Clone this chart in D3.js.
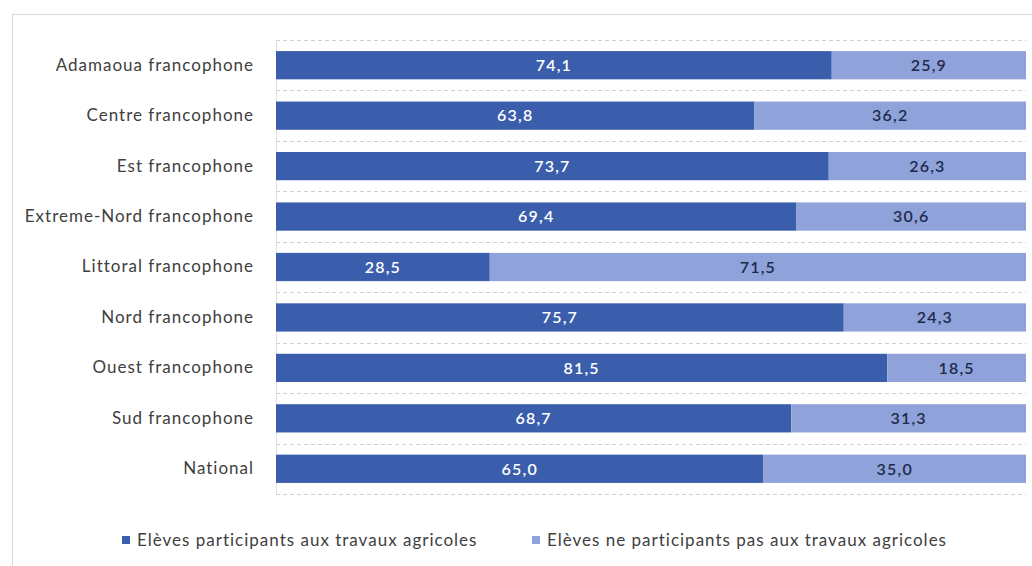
<!DOCTYPE html>
<html><head><meta charset="utf-8">
<script src="https://cdn.jsdelivr.net/npm/d3@7"></script>
<style>body{margin:0;background:#fff;} text{font-family:Lato,"Open Sans",sans-serif;}</style>
</head><body>
<svg id="c" width="1032" height="566"></svg>
<script>
const categories = ["Adamaoua francophone","Centre francophone","Est francophone","Extreme-Nord francophone","Littoral francophone","Nord francophone","Ouest francophone","Sud francophone","National"];
const participants = [74.1,63.8,73.7,69.4,28.5,75.7,81.5,68.7,65.0];
const nonParticipants = [25.9,36.2,26.3,30.6,71.5,24.3,18.5,31.3,35.0];
const seriesNames = ["Elèves participants aux travaux agricoles","Elèves ne participants pas aux travaux agricoles"];
const colors = ["#3a5eac","#8fa2da"];
const labelColors = ["#ffffff","#1e2a4a"];

const svg = d3.select("#c");
// outer frame
svg.append("rect").attr("x",12.5).attr("y",14.5).attr("width",1040).attr("height",600)
  .attr("fill","none").attr("stroke","#d9d9d9");

const x = d3.scaleLinear().domain([0,100]).range([276,1026]);
const y = d3.scaleBand().domain(categories).range([40,494]).paddingInner(0.44).paddingOuter(0.22);

// dashed separators
const seps = d3.range(categories.length+1).map(i => 40 + i*(454/categories.length));
svg.selectAll("line.sep").data(seps).join("line")
  .attr("x1",276).attr("x2",1026).attr("y1",d=>Math.round(d)+0.5).attr("y2",d=>Math.round(d)+0.5)
  .attr("stroke","#d0d0d0").attr("stroke-dasharray","4,3");
svg.append("line").attr("x1",276.5).attr("x2",276.5).attr("y1",40).attr("y2",494).attr("stroke","#e0e0e0");

const stacked = categories.map((c,i)=>({c, vals:[participants[i],nonParticipants[i]]}));
stacked.forEach(d=>{
  let acc=0;
  d.vals.forEach((v,k)=>{
    svg.append("rect").attr("x",x(acc)).attr("y",y(d.c)).attr("width",x(acc+v)-x(acc)).attr("height",y.bandwidth()).attr("fill",colors[k]);
    svg.append("text").attr("x",(x(acc)+x(acc+v))/2).attr("y",y(d.c)+y.bandwidth()/2).attr("dy","0.36em")
      .attr("text-anchor","middle").attr("font-size",16).attr("font-weight",600).attr("letter-spacing",1.2).attr("fill",labelColors[k])
      .text(d3.format(".1f")(v).replace(".",","));
    acc+=v;
  });
});

const yAxis = svg.append("g").attr("transform","translate(276,0)").call(d3.axisLeft(y).tickSize(0).tickPadding(22));
yAxis.select(".domain").remove();
yAxis.selectAll("text").attr("font-size",17).attr("letter-spacing",1).attr("fill","#404040").style("font-family","Lato,'Open Sans',sans-serif");

// legend
const legX = [122,532];
seriesNames.forEach((n,k)=>{
  svg.append("rect").attr("x",legX[k]).attr("y",536).attr("width",8).attr("height",8).attr("fill",colors[k]);
  svg.append("text").attr("x",legX[k]+15).attr("y",540).attr("dy","0.36em").attr("font-size",17).attr("letter-spacing",1).attr("fill","#404040").text(n);
});
</script>
</body></html>
